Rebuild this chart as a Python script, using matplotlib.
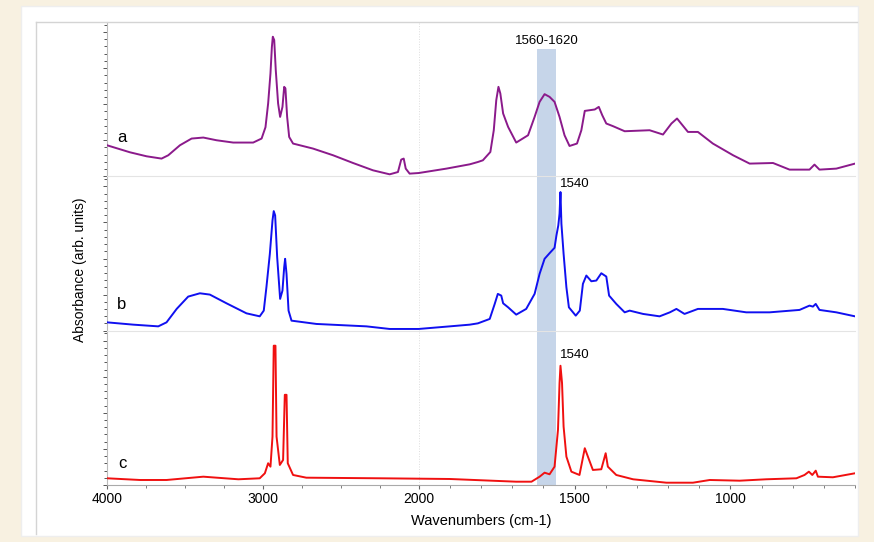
import numpy as np
import matplotlib
matplotlib.use('Agg')
import matplotlib.pyplot as plt
from matplotlib.patches import Rectangle
from matplotlib.lines import Line2D
from matplotlib.ticker import FixedLocator, MultipleLocator

plt.rcParams['font.family'] = ['Liberation Sans', 'DejaVu Sans']

# spectra (wavenumber, absorbance in arb. units)
wn_a = [4000, 3853, 3746, 3650, 3607, 3532, 3457, 3382, 3297, 3190,
        3062, 3008, 2983, 2966, 2951, 2942, 2936, 2927, 2917, 2902,
        2889, 2874, 2863, 2855, 2844, 2831, 2806, 2678, 2549, 2421,
        2293, 2186, 2133, 2112, 2096, 2083, 2058, 2000, 1911, 1836,
        1810, 1794, 1770, 1759, 1751, 1744, 1738, 1729, 1713, 1687,
        1649, 1628, 1612, 1596, 1580, 1564, 1548, 1532, 1516, 1492,
        1478, 1467, 1435, 1422, 1411, 1398, 1376, 1339, 1259, 1216,
        1189, 1171, 1136, 1104, 1056, 991, 938, 863, 810, 746,
        730, 714, 660, 600]
abs_a = [31, 24, 20, 17.7, 21, 31, 37.7, 38.7, 36, 33.7,
         33.7, 37.7, 49, 72.7, 102.7, 129, 139.3, 136, 106, 72.7,
         59.3, 69.3, 89.3, 87.7, 59.3, 39.3, 32.7, 27.7, 21, 13.3,
         6, 2, 4.3, 16.7, 17.7, 7.7, 2.7, 3.3, 7.7, 12,
         14.3, 16, 24.3, 46, 76, 89.3, 82.7, 62.7, 49.3, 33.7,
         41, 59.3, 74.3, 82, 79.3, 74.3, 59.3, 41, 30.3, 32.7,
         46, 65.3, 66.7, 69.3, 61, 52.7, 50, 45, 46, 41.7,
         52.7, 57.7, 44.3, 44.3, 32.7, 21, 12.7, 13.3, 6.7, 6.7,
         11.7, 6.7, 7.7, 12.7]

wn_b = [4000, 3831, 3671, 3618, 3553, 3479, 3404, 3340, 3233, 3105,
        3020, 2994, 2977, 2955, 2938, 2930, 2921, 2908, 2889, 2874,
        2863, 2857, 2848, 2835, 2816, 2656, 2335, 2186, 2000, 1900,
        1836, 1810, 1772, 1756, 1746, 1735, 1729, 1713, 1687, 1655,
        1628, 1612, 1596, 1580, 1564, 1558, 1552, 1548, 1545, 1542,
        1535, 1526, 1518, 1496, 1483, 1473, 1462, 1446, 1430, 1414,
        1398, 1389, 1366, 1339, 1323, 1280, 1227, 1194, 1173, 1147,
        1104, 1024, 949, 874, 778, 746, 735, 726, 714, 660,
        600]
abs_b = [8.3, 6, 4.3, 8.3, 21.7, 34, 37.3, 36, 27.3, 17.3,
         14.3, 20, 43.3, 76.7, 110, 119.3, 115, 73.3, 31.7, 40,
         63.3, 71.7, 56.7, 20, 10, 6.7, 4.3, 1.7, 1.7, 4.3,
         6, 7.3, 11.7, 26.7, 36.7, 35, 27.3, 23.3, 16, 21.7,
         36.7, 56.7, 71.7, 77.3, 82.7, 95, 105, 116.7, 138.3, 106.7,
         76.7, 43.3, 23.3, 15, 20, 46.7, 55, 49.3, 50, 57.3,
         54, 35, 26.7, 18.3, 20, 16.7, 14.3, 18.3, 21.7, 16.7,
         21.7, 21.7, 18.3, 18.3, 20.7, 25, 24, 26.7, 20.7, 18.3,
         14.3]

wn_c = [4000, 3788, 3618, 3382, 3157, 3020, 2987, 2966, 2951, 2938,
        2930, 2919, 2912, 2891, 2870, 2859, 2848, 2840, 2806, 2721,
        2250, 1900, 1687, 1638, 1612, 1596, 1580, 1564, 1553, 1548,
        1545, 1540, 1535, 1526, 1510, 1484, 1467, 1457, 1441, 1414,
        1400, 1393, 1366, 1312, 1205, 1120, 1066, 970, 885, 788,
        762, 748, 737, 726, 719, 671, 600]
abs_c = [6.7, 5, 5, 8.3, 5.7, 6.7, 11.7, 21.7, 18.3, 48.3,
         139, 139, 48.3, 20, 25, 90, 90, 21.7, 10, 7.3,
         6.7, 6, 3.3, 3.3, 8.3, 12.3, 10.7, 18.3, 55, 101.7,
         119, 101.7, 58.3, 28.3, 13.3, 10, 36.7, 28.3, 15, 15.7,
         31.7, 18.3, 10, 5.7, 2.3, 2.3, 5, 4.3, 5.7, 6.7,
         10, 13.3, 10, 14.3, 8.3, 7.7, 11.7]

labels = ['a', 'b', 'c']
label_y = [39, 26, 21]
band = (1560, 1620)
major_x = [4000, 3000, 2000, 1500, 1000]
minor_x = [3750, 3500, 3250, 2750, 2500, 2250] + \
          [w for w in range(1900, 599, -100) if w not in (1500, 1000)]


# x axis is compressed above 2000 cm-1 (half the scale of the low range)
def fwd(x):
    x = np.asarray(x, dtype=float)
    return np.where(x >= 2000, x, 2 * x - 2000)


def inv(u):
    u = np.asarray(u, dtype=float)
    return np.where(u >= 2000, u, (u + 2000) / 2)


W, H = 874, 542
fig = plt.figure(figsize=(W / 100, H / 100), dpi=100)
fig.patch.set_facecolor('#f8f1e1')

# white page and light frame
fig.add_artist(Rectangle((21 / W, 1 - 536 / H), 837 / W, 530 / H,
                         transform=fig.transFigure, facecolor='white',
                         edgecolor='#eeeeee', lw=1, zorder=0))
fig.add_artist(Line2D([36 / W, 857 / W], [1 - 22 / H, 1 - 22 / H],
                      transform=fig.transFigure, color='#d4d4d4', lw=1))
fig.add_artist(Line2D([36 / W, 36 / W], [1 - 22 / H, 1 - 534 / H],
                      transform=fig.transFigure, color='#d4d4d4', lw=1))

left, right = 107 / W, 855 / W
top_px, bot_px = 22, 485
ph = (bot_px - top_px) / 3

series = [(wn_a, abs_a, '#8b1a8b'), (wn_b, abs_b, '#1010f0'), (wn_c, abs_c, '#f01010')]
axes = []
for i, (wn, ab, col) in enumerate(series):
    y0 = top_px + i * ph
    ax = fig.add_axes([left, 1 - (y0 + ph) / H, right - left, ph / H])
    ax.set_facecolor('none')
    ax.set_xscale('function', functions=(fwd, inv))
    ax.set_xlim(4000, 600)
    ax.set_ylim(0, 154)
    ax.plot(wn, ab, color=col, lw=1.4, zorder=3)
    ax.axvline(2000, color='#dddddd', lw=0.7, ls=':', zorder=1)

    top = 0.825 if i == 0 else 1
    ax.axvspan(band[1], band[0], ymin=0, ymax=top, color='#c6d5e9', lw=0, zorder=2)

    ax.text(0.02, label_y[i], labels[i], transform=ax.get_yaxis_transform(),
            fontsize=12, ha='center', va='center')

    for s in ['right']:
        ax.spines[s].set_visible(False)
    ax.spines['left'].set_color('#bbbbbb')
    ax.spines['top'].set_color('#e4e4e4')
    if i == 0:
        ax.spines['top'].set_visible(False)
    if i < 2:
        ax.spines['bottom'].set_visible(False)
    else:
        ax.spines['bottom'].set_color('#aaaaaa')

    ax.yaxis.set_major_locator(MultipleLocator(36))
    ax.yaxis.set_minor_locator(MultipleLocator(7.2))
    ax.tick_params(axis='y', which='both', labelleft=False, color='#555555', width=0.7)
    ax.tick_params(axis='y', which='major', length=3)
    ax.tick_params(axis='y', which='minor', length=2)

    ax.xaxis.set_major_locator(FixedLocator(major_x))
    ax.xaxis.set_minor_locator(FixedLocator(minor_x))
    if i < 2:
        ax.tick_params(axis='x', which='both', bottom=False, labelbottom=False)
    else:
        ax.set_xticklabels([str(v) for v in major_x])
        ax.tick_params(axis='x', which='major', length=3, color='#666666', labelsize=10, pad=2)
        ax.tick_params(axis='x', which='minor', length=2, color='#666666')
        ax.set_xlabel('Wavenumbers (cm-1)', fontsize=10.5, labelpad=6)
    axes.append(ax)

axes[0].text(1590, 135, '1560-1620', fontsize=9.5, ha='center', va='center')
axes[1].text(1547, 146, '1540', fontsize=9.5, ha='left', va='center')
axes[2].text(1547, 130, '1540', fontsize=9.5, ha='left', va='center')

fig.text(80 / W, 1 - 270 / H, 'Absorbance (arb. units)', rotation=90,
         fontsize=10, ha='center', va='center')

plt.savefig('out.png', dpi=100, facecolor=fig.get_facecolor())
